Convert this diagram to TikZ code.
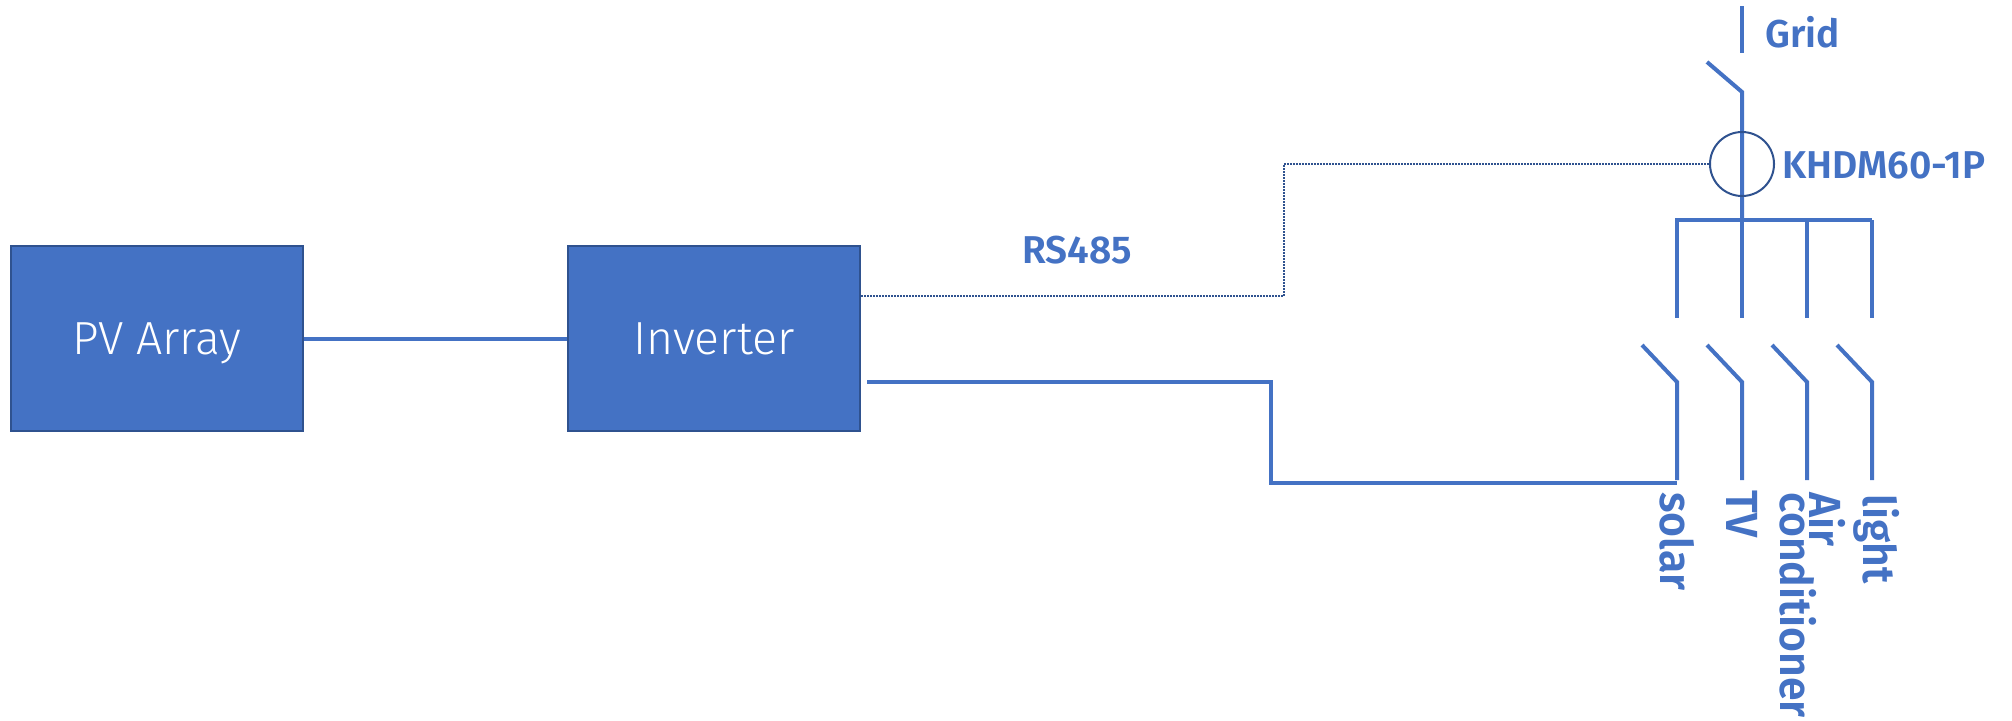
\documentclass[tikz,border=0pt]{standalone}
\usepackage{fontspec}
\setmainfont{Fira Sans}
\newfontfamily\boxfont{Fira Sans Light}
\newfontfamily\labelfont{Fira Sans SemiBold}
\newfontfamily\loadface{Fira Sans SemiBold}[FakeStretch=0.95]
\newcommand\loadfont{\loadface\fontsize{22.5pt}{14.5pt}\selectfont\lineskiplimit=-50pt\relax}
\definecolor{pvblue}{HTML}{4472C4}
\definecolor{pvdark}{HTML}{2F528F}
\begin{document}
\begin{tikzpicture}[x=0.5pt,y=-0.5pt,
  box/.style={draw=pvdark,line width=1.2pt,fill=pvblue,minimum width=146pt,minimum height=92.5pt,inner sep=0pt,text=white,text depth=0pt,font=\boxfont\fontsize{23.2pt}{28pt}\selectfont},
  wire/.style={draw=pvblue,line width=2pt},
  rsline/.style={draw=pvdark,line width=1pt,dash pattern=on 0.75pt off 0.75pt},
  lbl/.style={text=pvblue,inner sep=0pt,font=\labelfont\fontsize{19.4pt}{22pt}\selectfont},
  load/.style={text=pvblue,inner sep=0pt,rotate=-90,font=\loadfont}]
 \useasboundingbox (0,0) rectangle (2012,720);
 \node[box] (pv) at (157,338.5) {PV Array};
 \node[box] (inv) at (714,338.5) {Inverter};
 \draw[wire] (pv) -- (inv);
 % grid side
 \draw[wire] (1742,6) -- (1742,53);
 \draw[wire] (1707,62) -- (1742,92) -- (1742,220);
 \node[circle,draw=pvdark,line width=1pt,minimum size=32pt,inner sep=0pt] (meter) at (1742,164) {};
 \draw[wire] (1675,220) -- (1872,220);
 \foreach \x in {1677,1742,1807,1872}{
  \draw[wire] (\x,220) -- (\x,318);
  \draw[wire] (\x-35,345) -- (\x,382) -- (\x,480);
 }
 % connections
 \coordinate (rsbend) at (1284,164);
 \coordinate (solarin) at (1677,483);
 \draw[rsline] ([yshift=21.25pt]inv.east) -| (rsbend) -- (meter.west);
 \draw[wire] ([xshift=3pt,yshift=-21.75pt]inv.east) -| (1271,483) -- (solarin);
 % labels
 \node[lbl,anchor=base] (rs) at (1077,263) {RS485};
 \node[lbl,anchor=base west] (grid) at (1765,47) {Grid};
 \node[lbl,anchor=base west] (khdm) at (1782,178) {KHDM60-1P};
 \node[load,anchor=base west] (solar) at (1660,492) {solar};
 \node[load,anchor=base west] (tv) at (1726,490) {TV};
 \node[load,anchor=north west,align=left] (ac) at (1846,492) {Air\\conditioner};
 \node[load,anchor=base west] (light) at (1863,494) {light};
\end{tikzpicture}
\end{document}
